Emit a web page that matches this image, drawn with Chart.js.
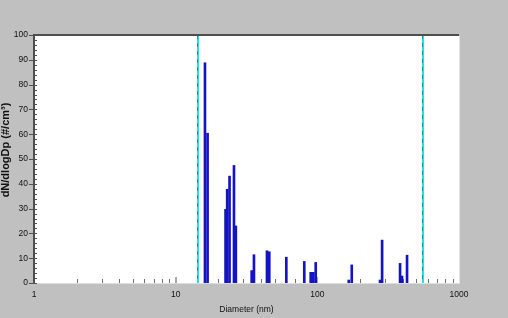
<!DOCTYPE html>
<html><head><meta charset="utf-8">
<script src="https://cdn.jsdelivr.net/npm/chart.js@4"></script>
<style>html,body{margin:0;padding:0;background:#c0c0c0;overflow:hidden}</style>
</head><body>
<canvas id="c" width="508" height="318"></canvas>
<script>
// ---- data ----
const diameters = [16.1, 16.8, 22.5, 23.1, 24.0, 25.8, 26.6, 34.4, 35.7, 44.1, 45.8, 60.4, 80.9, 89.8, 93.7, 97.4, 166.7, 175, 277, 286.6, 383.7, 396, 429.8];
const concentrations = [88.8, 60.4, 29.7, 37.8, 43.1, 47.4, 23.0, 5.0, 11.4, 13.0, 12.6, 10.4, 8.7, 4.3, 4.3, 8.3, 1.2, 7.3, 1.2, 17.3, 7.9, 2.8, 11.2];
const xTickValues = [1,2,3,4,5,6,7,8,9,10,20,30,40,50,60,70,80,90,100,200,300,400,500,600,700,800,900,1000];
const xLabelValues = [1, 10, 100, 1000];
const yTickStep = 10;
const yMinorStep = 2;
const yRange = [0, 100];
const cutoffDiameters = [14.3, 560];
const xTitle = 'Diameter (nm)';
const yTitle = 'dN/dlogDp (#/cm³)';

const FONT = '"Liberation Sans", Arial, sans-serif';

const framePlugin = {
  id: 'frame',
  beforeDraw(chart) {
    const {ctx, chartArea: a} = chart;
    ctx.save();
    ctx.fillStyle = '#c0c0c0';
    ctx.fillRect(0, 0, chart.width, chart.height);
    ctx.fillStyle = '#ffffff';
    ctx.fillRect(a.left, a.top, a.right - a.left, a.bottom - a.top);
    ctx.fillStyle = '#dcdcdc';
    ctx.fillRect(a.left, a.bottom, a.right - a.left, 1);
    ctx.restore();
  },
  beforeDatasetsDraw(chart) {
    const {ctx, chartArea: a, scales: {x}} = chart;
    ctx.save();
    x.ticks.forEach(t => {
      const v = t.value;
      if (v === xTickValues[0] || v === xTickValues[xTickValues.length - 1]) return;
      const px = Math.round(x.getPixelForValue(v));
      if (xLabelValues.includes(v)) {
        ctx.fillStyle = '#a8a8a8';
        ctx.fillRect(px - 1, a.bottom - 6, 2, 6);
      } else {
        ctx.fillStyle = '#707070';
        ctx.fillRect(px, a.bottom - 4, 1, 4);
      }
    });
    ctx.restore();
  },
  afterDatasetsDraw(chart) {
    const {ctx, chartArea: a, scales: {x, y}} = chart;
    ctx.save();
    // cutoff lines
    cutoffDiameters.forEach(d => {
      const px = Math.round(x.getPixelForValue(d));
      ctx.fillStyle = '#00f0f8';
      ctx.fillRect(px - 1, a.top, 2, a.bottom - a.top);
      ctx.strokeStyle = '#5c7880';
      ctx.lineWidth = 1;
      ctx.setLineDash([4, 4]);
      ctx.beginPath();
      ctx.moveTo(px - 0.5, a.top);
      ctx.lineTo(px - 0.5, a.bottom);
      ctx.stroke();
    });
    ctx.setLineDash([]);
    // frame
    ctx.fillStyle = '#4e4e4e';
    ctx.fillRect(a.left - 1, a.top - 1, a.right - a.left + 1, 2);
    ctx.fillRect(a.left - 1, a.top - 1, 2, a.bottom - a.top + 1);
    ctx.fillStyle = '#e4e4e4';
    ctx.fillRect(a.right, a.top + 1, 1, a.bottom - a.top);
    // y ticks
    for (let v = yRange[0]; v <= yRange[1]; v += yMinorStep) {
      const py = Math.round(y.getPixelForValue(v));
      ctx.fillStyle = '#505050';
      if (v % yTickStep === 0) {
        ctx.fillRect(a.left - 5, py, 8, 1);
      } else {
        ctx.fillRect(a.left, py, 3, 1);
      }
    }
    // y title
    ctx.translate(6, 150);
    ctx.rotate(-Math.PI / 2);
    ctx.fillStyle = '#101010';
    ctx.font = 'bold 11px ' + FONT;
    ctx.textAlign = 'center';
    ctx.textBaseline = 'middle';
    ctx.fillText(yTitle, 0, 0);
    ctx.restore();
  }
};

new Chart(document.getElementById('c'), {
  type: 'bar',
  data: {
    datasets: [{
      data: diameters.map((d, i) => ({x: d, y: concentrations[i]})),
      backgroundColor: '#1414c4',
      borderWidth: 0,
      barThickness: 2
    }]
  },
  options: {
    responsive: false,
    animation: false,
    devicePixelRatio: 1,
    layout: {padding: {top: 35, right: 49, left: 0, bottom: 0}},
    plugins: {legend: {display: false}, tooltip: {enabled: false}},
    scales: {
      x: {
        type: 'logarithmic',
        min: 1, max: 1000,
        offset: false,
        afterBuildTicks: s => { s.ticks = xTickValues.map(v => ({value: v})); },
        afterFit: s => { s.height = 35; },
        grid: {display: false, drawTicks: false},
        border: {display: false},
        ticks: {
          autoSkip: false, maxRotation: 0, minRotation: 0, padding: 7,
          color: '#101010',
          font: {family: FONT, size: 8.5},
          callback: v => xLabelValues.includes(v) ? String(v) : ''
        },
        title: {
          display: true, text: xTitle, color: '#101010',
          font: {family: FONT, size: 8.5},
          padding: {top: 0, bottom: 3}
        }
      },
      y: {
        min: yRange[0], max: yRange[1],
        afterFit: s => { s.width = 34; },
        grid: {display: false, drawTicks: false},
        border: {display: false},
        ticks: {
          stepSize: yTickStep, padding: 6,
          color: '#101010',
          font: {family: FONT, size: 8.5}
        }
      }
    }
  },
  plugins: [framePlugin]
});
</script>
</body></html>
